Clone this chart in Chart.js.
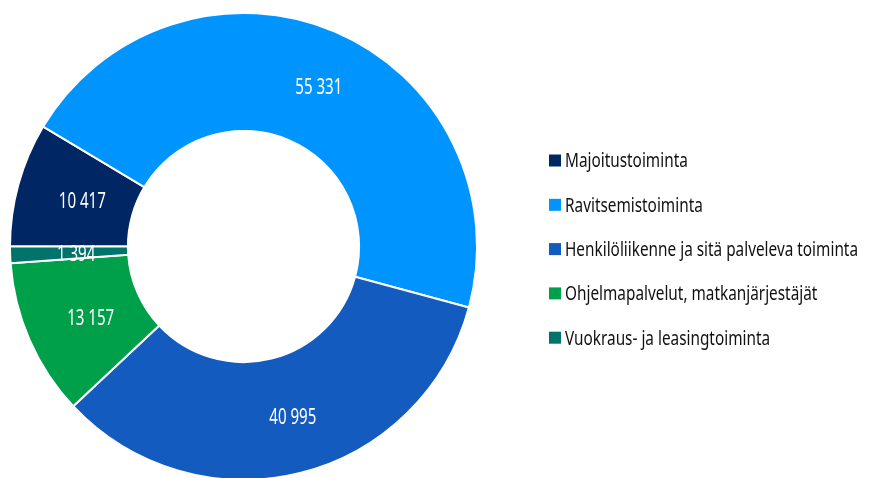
<!DOCTYPE html>
<html>
<head>
<meta charset="utf-8">
<script src="https://cdn.jsdelivr.net/npm/chart.js@4.4.1/dist/chart.umd.min.js"></script>
<style>
  html, body { margin: 0; padding: 0; background: #fff; overflow: hidden; }
  #wrap { width: 871px; height: 478px; overflow: hidden; }
</style>
</head>
<body>
<div id="wrap"><canvas id="chartCanvas" width="871" height="494"></canvas></div>
<script>
// Data
const categories = [
  "Majoitustoiminta",
  "Ravitsemistoiminta",
  "Henkilöliikenne ja sitä palveleva toiminta",
  "Ohjelmapalvelut, matkanjärjestäjät",
  "Vuokraus- ja leasingtoiminta"
];
const values = [10417, 55331, 40995, 13157, 1394];
const colors = ["#002663", "#0094ff", "#135bbf", "#00a04a", "#00736a"];

const FONT = '"Noto Sans", "Open Sans", sans-serif';

function fmt(v) {
  return String(v).replace(/\B(?=(\d{3})+(?!\d))/g, " ");
}

// narrow text: the original uses a condensed face, so squeeze horizontally
function narrowText(ctx, text, x, y, sx, align) {
  ctx.save();
  ctx.translate(x, y);
  ctx.scale(sx, 1);
  ctx.textAlign = align;
  ctx.fillText(text, 0, 0);
  ctx.restore();
}

// value labels on the slices
const sliceLabels = {
  id: "sliceLabels",
  afterDatasetsDraw(chart) {
    const ctx = chart.ctx;
    const meta = chart.getDatasetMeta(0);
    ctx.save();
    ctx.font = "21px " + FONT;
    ctx.fillStyle = "#fff";
    ctx.textBaseline = "alphabetic";
    const sx = 47 / ctx.measureText("55 331").width;
    meta.data.forEach((arc, i) => {
      const p = arc.getCenterPoint();
      narrowText(ctx, fmt(chart.data.datasets[0].data[i]), p.x + 7, p.y + 8.5, sx, "center");
    });
    ctx.restore();
  }
};

// legend on the right
const sideLegend = {
  id: "sideLegend",
  afterDraw(chart) {
    const ctx = chart.ctx;
    const x = 549, y0 = 160.5, step = 44.3, box = 12;
    ctx.save();
    ctx.font = "19.5px " + FONT;
    ctx.textBaseline = "alphabetic";
    const sx = 293 / ctx.measureText(chart.data.labels[2]).width;
    chart.data.labels.forEach((lab, i) => {
      const y = y0 + i * step;
      ctx.fillStyle = chart.data.datasets[0].backgroundColor[i];
      ctx.fillRect(x, y - box / 2, box, box);
      ctx.fillStyle = "#111";
      narrowText(ctx, lab, 565, y + 6.8, sx, "left");
    });
    ctx.restore();
  }
};

new Chart(document.getElementById("chartCanvas"), {
  type: "doughnut",
  data: {
    labels: categories,
    datasets: [{
      data: values,
      backgroundColor: colors,
      borderColor: "#fff",
      borderWidth: 2
    }]
  },
  options: {
    responsive: false,
    animation: false,
    rotation: 270,
    cutout: "49.5%",
    layout: { padding: { top: 12, left: 9, right: 393, bottom: 13 } },
    plugins: {
      legend: { display: false },
      tooltip: { enabled: false }
    }
  },
  plugins: [sliceLabels, sideLegend]
});
</script>
</body>
</html>
